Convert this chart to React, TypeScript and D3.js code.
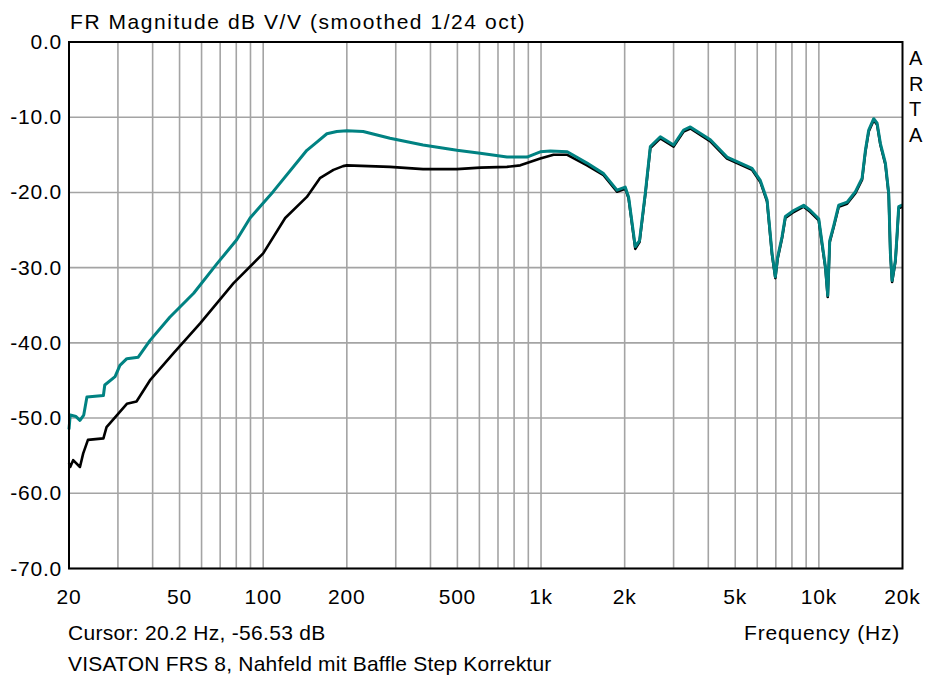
import React from 'react'
import { scaleLog, scaleLinear, line, curveLinear } from 'd3'

// frequency grid and tick labels
const gridFreqs = [30, 40, 50, 60, 70, 80, 90, 100, 200, 300, 400, 500, 600, 700, 800, 900,
  1000, 2000, 3000, 4000, 5000, 6000, 7000, 8000, 9000, 10000]
const xTickValues = [20, 50, 100, 200, 500, 1000, 2000, 5000, 10000, 20000]
const xTickLabels = ['20', '50', '100', '200', '500', '1k', '2k', '5k', '10k', '20k']
const yTickValues = [0, -10, -20, -30, -40, -50, -60, -70]
const yTickLabels = ['0.0', '-10.0', '-20.0', '-30.0', '-40.0', '-50.0', '-60.0', '-70.0']

// teal curve (with baffle step correction)
const tealFreq = [20, 20.2, 21.2, 21.9, 22.6, 23.2, 26.6, 26.9, 29.3, 30.5, 32.3, 35.5, 39.1, 46.1,
  56.2, 68.1, 80.3, 89.7, 108.6, 143.6, 156, 169.5, 184, 200, 229, 286, 376, 498, 604, 754, 890, 994,
  1080, 1243, 1464, 1679, 1877, 2010, 2066, 2184, 2262, 2373, 2474, 2688, 3001, 3260, 3446,
  4068, 4671, 5217, 5746, 6155, 6509, 6784, 6972, 7107, 7370, 7575, 8116, 8818, 9322, 9988,
  10275, 10560, 10763, 10943, 11312, 11790, 12636, 13537, 14310, 14707, 15116, 15755, 16204,
  16654, 17358, 17840, 18093, 18349, 18858, 19124, 19380, 19931, 20000]
const tealDb = [-51.5, -49.6, -49.8, -50.3, -49.6, -47.2, -47.0, -45.6, -44.5, -43.0, -42.1, -41.9,
  -39.7, -36.6, -33.4, -29.5, -26.3, -23.4, -19.9, -14.4, -13.3, -12.2, -11.9, -11.8, -11.9, -12.8, -13.7,
  -14.4, -14.8, -15.3, -15.3, -14.6, -14.5, -14.6, -16.1, -17.5, -19.7, -19.3, -20.6, -27.2,
  -26.4, -20.1, -13.9, -12.6, -13.7, -11.7, -11.3, -13.0, -15.3, -16.1, -16.8, -18.4, -21.0,
  -28.1, -31.2, -28.6, -25.9, -23.2, -22.4, -21.7, -22.4, -23.5, -26.8, -29.9, -33.7, -26.4,
  -24.4, -21.7, -21.3, -19.9, -18.1, -14.4, -11.7, -10.2, -10.8, -13.5, -16.1, -20.1, -28.1,
  -31.7, -29.0, -25.5, -21.9, -21.7, -21.7]

// black curve (raw nearfield)
const blackFreq = [20, 20.2, 20.7, 21.9, 22.5, 23.4, 26.6, 27.3, 30.1, 32.3, 35.0, 39.1, 47.5,
  59.3, 78.1, 100, 120, 143.6, 160, 179, 193.9, 200, 286, 376, 498, 604, 754, 842, 994, 1109,
  1243, 1464, 1679, 1877, 2010, 2066, 2184, 2262, 2373, 2474, 2688, 3001, 3260, 3446, 4068,
  4671, 5217, 5746, 6155, 6509, 6784, 6972, 7107, 7370, 7575, 8116, 8818, 9322, 9988, 10275,
  10560, 10763, 10943, 11312, 11790, 12636, 13537, 14310, 14707, 15116, 15755, 16204, 16654,
  17358, 17840, 18093, 18349, 18858, 19124, 19380, 19931, 20000]
const blackDb = [-56.0, -56.5, -55.6, -56.5, -54.7, -52.9, -52.7, -51.2, -49.4, -48.1, -47.8,
  -45.0, -41.4, -37.4, -32.1, -28.1, -23.4, -20.6, -18.1, -17.0, -16.5, -16.4, -16.6, -16.9, -16.9,
  -16.7, -16.6, -16.4, -15.5, -15.0, -15.0, -16.4, -17.7, -19.9, -19.5, -20.8, -27.5, -26.6,
  -20.3, -14.1, -12.8, -13.9, -11.9, -11.5, -13.2, -15.5, -16.3, -17.0, -18.6, -21.2, -28.3,
  -31.4, -28.8, -26.1, -23.4, -22.6, -21.9, -22.6, -23.7, -27.0, -30.1, -33.9, -26.6, -24.6,
  -21.9, -21.5, -20.1, -18.3, -14.6, -11.9, -10.4, -11.0, -13.7, -16.3, -20.3, -28.3, -31.9,
  -29.2, -25.7, -22.1, -21.9, -21.9]

const W = 925
const H = 677
const left = 69
const right = 902.5
const top = 42
const bottom = 568.5
const font = '"Liberation Sans", Arial, sans-serif'

const App = () => {
  const x = scaleLog().domain([20, 20000]).range([left, right])
  const y = scaleLinear().domain([-70, 0]).range([bottom, top])

  const path = line<[number, number]>()
    .x(d => x(d[0]))
    .y(d => y(d[1]))
    .curve(curveLinear)

  const teal = path(tealFreq.map((f, i) => [f, tealDb[i]])) || ''
  const black = path(blackFreq.map((f, i) => [f, blackDb[i]])) || ''

  const txt = { fontFamily: font, fontSize: 21, fill: '#000', letterSpacing: 0.8 }

  return (
    <svg width={W} height={H} style={{ position: 'absolute', left: 0, top: 0, background: '#fff' }}>
      <rect x={0} y={0} width={W} height={H} fill='#fff' />

      {/* grid */}
      <g stroke='#a4a4a4' strokeWidth={1.6}>
        {gridFreqs.map(f => (
          <line key={'v' + f} x1={x(f)} x2={x(f)} y1={top} y2={bottom} />
        ))}
        {yTickValues.map(v => (
          <line key={'h' + v} x1={left} x2={right} y1={y(v)} y2={y(v)} />
        ))}
      </g>

      {/* curves */}
      <path d={black} fill='none' stroke='#000' strokeWidth={2.6} strokeLinejoin='round' />
      <path d={teal} fill='none' stroke='#008282' strokeWidth={3} strokeLinejoin='round' />

      {/* frame */}
      <rect x={left} y={top} width={right - left} height={bottom - top} fill='none' stroke='#000' strokeWidth={2} />

      {/* y ticks */}
      {yTickValues.map((v, i) => (
        <text key={'yl' + v} x={62} y={y(v) + 7} textAnchor='end' style={txt}>{yTickLabels[i]}</text>
      ))}

      {/* x ticks */}
      {xTickValues.map((v, i) => (
        <text key={'xl' + v} x={x(v)} y={604} textAnchor='middle' style={txt}>{xTickLabels[i]}</text>
      ))}

      <text x={70} y={29} style={{ ...txt, letterSpacing: 1.55 }}>FR Magnitude dB V/V (smoothed 1/24 oct)</text>
      <text x={68} y={640} style={{ ...txt, letterSpacing: 0.3 }}>Cursor: 20.2 Hz, -56.53 dB</text>
      <text x={900} y={640} textAnchor='end' style={txt}>Frequency (Hz)</text>
      <text x={68} y={671} style={{ ...txt, letterSpacing: 0.2 }}>VISATON FRS 8, Nahfeld mit Baffle Step Korrektur</text>

      {/* vertical ARTA label */}
      {['A', 'R', 'T', 'A'].map((c, i) => (
        <text key={'a' + i} x={909} y={65 + i * 25.5} style={{ ...txt, fontSize: 20, letterSpacing: 0 }}>{c}</text>
      ))}
    </svg>
  )
}

export default App
